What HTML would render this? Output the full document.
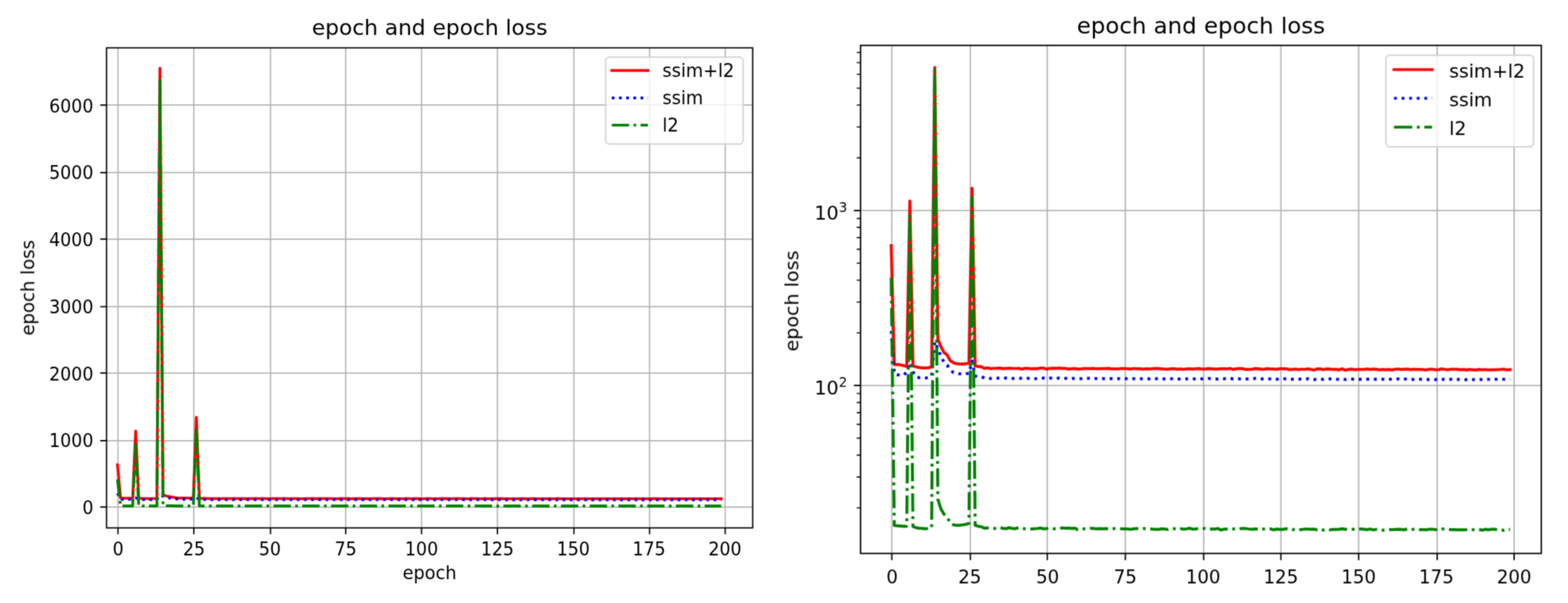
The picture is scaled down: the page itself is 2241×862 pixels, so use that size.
<!DOCTYPE html>
<html lang="en">
<head>
<meta charset="utf-8">
<title>epoch and epoch loss</title>
<style>
html,body{margin:0;padding:0;background:#fff;}
body{width:2241px;height:862px;overflow:hidden;}
svg{display:block;}
</style>
</head>
<body>
<svg width="2241" height="862" viewBox="0 0 2241 862">
<rect width="2241" height="862" fill="#fff"/>
<defs>
<filter id="blura" x="0" y="0" width="1190" height="862" filterUnits="userSpaceOnUse" color-interpolation-filters="sRGB"><feConvolveMatrix order="3" kernelMatrix="0.0400 0.1200 0.0400 0.1200 0.3600 0.1200 0.0400 0.1200 0.0400" divisor="1" edgeMode="duplicate" preserveAlpha="false"/></filter>
<filter id="blurb" x="1100" y="0" width="1141" height="862" filterUnits="userSpaceOnUse" color-interpolation-filters="sRGB"><feConvolveMatrix order="3" kernelMatrix="0.0484 0.1232 0.0484 0.1232 0.3136 0.1232 0.0484 0.1232 0.0484" divisor="1" edgeMode="duplicate" preserveAlpha="false"/></filter>
</defs>
<g font-family="'DejaVu Sans', 'Liberation Sans', sans-serif" fill="#000" filter="url(#blura)">
<clipPath id="ca"><rect x="152.3" y="68.4" width="923.4" height="686.2"/></clipPath>
<path d="M168.6 68.4V754.6M277 68.4V754.6M386.6 68.4V754.6M494.1 68.4V754.6M602.5 68.4V754.6M710.9 68.4V754.6M820.3 68.4V754.6M928.4 68.4V754.6M1036.5 68.4V754.6M152.3 724.8H1075.7M152.3 630.04H1075.7M152.3 533.28H1075.7M152.3 438.42H1075.7M152.3 341.76H1075.7M152.3 246.7H1075.7M152.3 150.24H1075.7" stroke="#b0b0b0" stroke-width="1.76" fill="none"/>
<g clip-path="url(#ca)" fill="none" stroke-width="4.03" stroke-linejoin="round">
<path d="M167.9 664.47L172.24 712.17L176.57 712.15L180.91 712.26L185.24 712.35L189.58 712.51L193.92 616.3L198.25 712.41L202.59 712.56L206.92 712.67L211.26 712.72L215.6 712.73L219.93 712.69L224.27 712.59L228.6 97.57L232.94 707.18L237.28 708.84L241.61 710.02L245.95 710.48L250.28 711.53L254.62 711.88L258.96 712.04L263.29 712.09L267.63 712.08L271.96 712.04L276.3 711.99L280.64 596.48L284.97 712.43L289.31 712.49L293.64 712.54L297.98 712.8L302.32 712.72L306.65 712.85L310.99 712.79L315.32 712.78L319.66 712.75L324 712.86L328.33 712.81L332.67 712.78L337 712.81L341.34 712.82L345.68 712.81L350.01 712.91L354.35 712.8L358.68 712.8L363.02 712.85L367.36 712.84L371.69 712.85L376.03 712.75L380.36 712.76L384.7 712.94L389.04 712.79L393.37 712.77L397.71 712.82L402.04 712.75L406.38 712.81L410.72 712.8L415.05 712.91L419.39 712.85L423.72 712.83L428.06 712.92L432.4 712.89L436.73 712.84L441.07 712.84L445.4 712.82L449.74 712.8L454.08 712.87L458.41 712.85L462.75 712.84L467.08 712.84L471.42 712.8L475.76 712.9L480.09 712.9L484.43 712.88L488.76 712.82L493.1 712.82L497.44 712.85L501.77 712.92L506.11 712.82L510.44 712.87L514.78 712.85L519.12 712.93L523.45 712.86L527.79 712.9L532.12 712.85L536.46 712.8L540.8 712.84L545.13 712.88L549.47 712.92L553.8 712.94L558.14 712.86L562.48 712.85L566.81 712.94L571.15 712.89L575.48 712.96L579.82 712.88L584.16 712.86L588.49 712.91L592.83 712.87L597.16 712.83L601.5 712.91L605.84 712.92L610.17 712.84L614.51 712.86L618.84 712.92L623.18 712.92L627.52 712.87L631.85 712.85L636.19 712.87L640.52 712.81L644.86 712.96L649.2 712.86L653.53 712.82L657.87 712.85L662.2 712.98L666.54 712.96L670.88 712.95L675.21 712.84L679.55 712.85L683.88 712.95L688.22 712.94L692.56 712.84L696.89 712.9L701.23 712.91L705.56 712.94L709.9 712.85L714.24 712.86L718.57 712.85L722.91 713L727.24 712.96L731.58 712.92L735.92 712.99L740.25 712.95L744.59 712.96L748.92 712.87L753.26 712.97L757.6 713.06L761.93 712.88L766.27 712.89L770.6 713.01L774.94 712.89L779.28 712.92L783.61 712.96L787.95 712.94L792.28 713.05L796.62 712.87L800.96 713.09L805.29 712.98L809.63 712.91L813.96 713.01L818.3 712.98L822.64 712.97L826.97 712.97L831.31 712.9L835.64 712.96L839.98 712.91L844.32 712.93L848.65 713.04L852.99 712.96L857.32 713.02L861.66 712.97L866 713.06L870.33 712.94L874.67 712.9L879 712.97L883.34 712.93L887.68 712.93L892.01 713L896.35 712.95L900.68 712.96L905.02 712.96L909.36 713L913.69 713.04L918.03 712.94L922.36 712.95L926.7 713.01L931.04 713L935.37 712.88L939.71 712.96L944.04 713.03L948.38 712.93L952.72 712.95L957.05 712.94L961.39 713.02L965.72 712.97L970.06 713.05L974.4 712.97L978.73 713.04L983.07 713.05L987.4 712.96L991.74 713.01L996.08 713L1000.41 713.04L1004.75 713.01L1009.08 713.02L1013.42 712.99L1017.76 712.98L1022.09 712.93L1026.43 713.04L1030.76 713.01" stroke="#f00" stroke-linecap="square"/>
<path d="M167.9 705.17L172.24 713.6L176.57 713.76L180.91 713.85L185.24 713.83L189.58 713.36L193.92 711.87L198.25 713.31L202.59 714.03L206.92 714.19L211.26 714.22L215.6 714.22L219.93 714.19L224.27 713.93L228.6 707.75L232.94 709.24L237.28 710.72L241.61 711.82L245.95 712.26L250.28 713.06L254.62 713.43L258.96 713.6L263.29 713.63L267.63 713.63L271.96 713.6L276.3 713.57L280.64 711.59L284.97 713.96L289.31 714L293.64 714.04L297.98 714.25L302.32 714.19L306.65 714.3L310.99 714.25L315.32 714.27L319.66 714.23L324 714.27L328.33 714.23L332.67 714.27L337 714.29L341.34 714.27L345.68 714.25L350.01 714.29L354.35 714.3L358.68 714.28L363.02 714.28L367.36 714.29L371.69 714.34L376.03 714.26L380.36 714.24L384.7 714.34L389.04 714.25L393.37 714.23L397.71 714.28L402.04 714.23L406.38 714.29L410.72 714.27L415.05 714.33L419.39 714.29L423.72 714.29L428.06 714.32L432.4 714.32L436.73 714.29L441.07 714.28L445.4 714.24L449.74 714.31L454.08 714.3L458.41 714.29L462.75 714.31L467.08 714.33L471.42 714.3L475.76 714.33L480.09 714.36L484.43 714.32L488.76 714.34L493.1 714.29L497.44 714.33L501.77 714.33L506.11 714.32L510.44 714.34L514.78 714.33L519.12 714.35L523.45 714.32L527.79 714.35L532.12 714.3L536.46 714.34L540.8 714.33L545.13 714.36L549.47 714.35L553.8 714.34L558.14 714.34L562.48 714.29L566.81 714.34L571.15 714.37L575.48 714.36L579.82 714.34L584.16 714.36L588.49 714.35L592.83 714.34L597.16 714.32L601.5 714.35L605.84 714.36L610.17 714.29L614.51 714.32L618.84 714.36L623.18 714.37L627.52 714.3L631.85 714.34L636.19 714.34L640.52 714.27L644.86 714.37L649.2 714.36L653.53 714.34L657.87 714.34L662.2 714.36L666.54 714.38L670.88 714.37L675.21 714.29L679.55 714.33L683.88 714.36L688.22 714.35L692.56 714.34L696.89 714.35L701.23 714.34L705.56 714.39L709.9 714.35L714.24 714.31L718.57 714.37L722.91 714.41L727.24 714.41L731.58 714.41L735.92 714.41L740.25 714.34L744.59 714.38L748.92 714.33L753.26 714.41L757.6 714.45L761.93 714.38L766.27 714.38L770.6 714.42L774.94 714.36L779.28 714.36L783.61 714.33L787.95 714.4L792.28 714.42L796.62 714.37L800.96 714.44L805.29 714.38L809.63 714.38L813.96 714.39L818.3 714.43L822.64 714.4L826.97 714.4L831.31 714.38L835.64 714.41L839.98 714.36L844.32 714.41L848.65 714.44L852.99 714.4L857.32 714.44L861.66 714.39L866 714.41L870.33 714.42L874.67 714.35L879 714.44L883.34 714.37L887.68 714.39L892.01 714.43L896.35 714.43L900.68 714.39L905.02 714.4L909.36 714.38L913.69 714.42L918.03 714.44L922.36 714.43L926.7 714.45L931.04 714.41L935.37 714.39L939.71 714.43L944.04 714.46L948.38 714.41L952.72 714.42L957.05 714.42L961.39 714.44L965.72 714.47L970.06 714.45L974.4 714.45L978.73 714.45L983.07 714.45L987.4 714.42L991.74 714.44L996.08 714.46L1000.41 714.41L1004.75 714.41L1009.08 714.43L1013.42 714.38L1017.76 714.4L1022.09 714.41L1026.43 714.46L1030.76 714.43" stroke="#00f" stroke-dasharray="3.88 6.39"/>
<path d="M167.9 685.25L172.24 723.28L176.57 723.29L180.91 723.29L185.24 723.3L189.58 723.3L193.92 635.26L198.25 723.3L202.59 723.33L206.92 723.33L211.26 723.34L215.6 723.34L219.93 723.34L224.27 723.33L228.6 114.62L232.94 722.65L237.28 722.91L241.61 723.04L245.95 723.1L250.28 723.24L254.62 723.27L258.96 723.28L263.29 723.28L267.63 723.27L271.96 723.26L276.3 723.24L280.64 611.04L284.97 723.28L289.31 723.3L293.64 723.31L297.98 723.33L302.32 723.33L306.65 723.33L310.99 723.34L315.32 723.34L319.66 723.32L324 723.34L328.33 723.34L332.67 723.33L337 723.34L341.34 723.34L345.68 723.32L350.01 723.34L354.35 723.34L358.68 723.35L363.02 723.35L367.36 723.34L371.69 723.34L376.03 723.33L380.36 723.35L384.7 723.34L389.04 723.33L393.37 723.34L397.71 723.35L402.04 723.35L406.38 723.33L410.72 723.34L415.05 723.33L419.39 723.34L423.72 723.33L428.06 723.36L432.4 723.35L436.73 723.35L441.07 723.35L445.4 723.34L449.74 723.34L454.08 723.35L458.41 723.34L462.75 723.35L467.08 723.34L471.42 723.35L475.76 723.34L480.09 723.34L484.43 723.34L488.76 723.35L493.1 723.35L497.44 723.35L501.77 723.36L506.11 723.34L510.44 723.34L514.78 723.34L519.12 723.34L523.45 723.35L527.79 723.35L532.12 723.35L536.46 723.36L540.8 723.36L545.13 723.35L549.47 723.35L553.8 723.36L558.14 723.34L562.48 723.34L566.81 723.36L571.15 723.35L575.48 723.35L579.82 723.35L584.16 723.34L588.49 723.35L592.83 723.35L597.16 723.34L601.5 723.35L605.84 723.34L610.17 723.35L614.51 723.35L618.84 723.35L623.18 723.34L627.52 723.37L631.85 723.35L636.19 723.35L640.52 723.35L644.86 723.35L649.2 723.34L653.53 723.34L657.87 723.34L662.2 723.34L666.54 723.35L670.88 723.36L675.21 723.35L679.55 723.35L683.88 723.34L688.22 723.35L692.56 723.36L696.89 723.35L701.23 723.37L705.56 723.35L709.9 723.36L714.24 723.36L718.57 723.35L722.91 723.36L727.24 723.37L731.58 723.34L735.92 723.36L740.25 723.36L744.59 723.35L748.92 723.35L753.26 723.36L757.6 723.35L761.93 723.37L766.27 723.35L770.6 723.37L774.94 723.36L779.28 723.37L783.61 723.36L787.95 723.36L792.28 723.36L796.62 723.35L800.96 723.35L805.29 723.36L809.63 723.36L813.96 723.36L818.3 723.36L822.64 723.35L826.97 723.36L831.31 723.36L835.64 723.35L839.98 723.37L844.32 723.36L848.65 723.37L852.99 723.37L857.32 723.37L861.66 723.36L866 723.36L870.33 723.36L874.67 723.35L879 723.36L883.34 723.37L887.68 723.35L892.01 723.36L896.35 723.35L900.68 723.35L905.02 723.36L909.36 723.36L913.69 723.37L918.03 723.35L922.36 723.35L926.7 723.36L931.04 723.37L935.37 723.35L939.71 723.35L944.04 723.36L948.38 723.36L952.72 723.36L957.05 723.36L961.39 723.37L965.72 723.37L970.06 723.36L974.4 723.35L978.73 723.36L983.07 723.37L987.4 723.36L991.74 723.37L996.08 723.36L1000.41 723.37L1004.75 723.35L1009.08 723.36L1013.42 723.37L1017.76 723.36L1022.09 723.38L1026.43 723.36L1030.76 723.36" stroke="#008000" stroke-dasharray="24.8 6.2 3.88 6.2"/>
</g>
<path d="M168.6 754.6v9.04M277 754.6v9.04M386.6 754.6v9.04M494.1 754.6v9.04M602.5 754.6v9.04M710.9 754.6v9.04M820.3 754.6v9.04M928.4 754.6v9.04M1036.5 754.6v9.04M152.3 724.8h-9.04M152.3 630.04h-9.04M152.3 533.28h-9.04M152.3 438.42h-9.04M152.3 341.76h-9.04M152.3 246.7h-9.04M152.3 150.24h-9.04" stroke="#000" stroke-width="1.86" fill="none"/>
<rect x="152.3" y="68.4" width="923.4" height="686.2" fill="none" stroke="#000" stroke-width="1.86"/>
<text x="168.9" y="793.8" font-size="25.83" text-anchor="middle" textLength="15.78" lengthAdjust="spacingAndGlyphs">0</text>
<text x="277.3" y="793.8" font-size="25.83" text-anchor="middle" textLength="31.56" lengthAdjust="spacingAndGlyphs">25</text>
<text x="385.7" y="793.8" font-size="25.83" text-anchor="middle" textLength="31.56" lengthAdjust="spacingAndGlyphs">50</text>
<text x="494.1" y="793.8" font-size="25.83" text-anchor="middle" textLength="31.56" lengthAdjust="spacingAndGlyphs">75</text>
<text x="602.5" y="793.8" font-size="25.83" text-anchor="middle" textLength="47.34" lengthAdjust="spacingAndGlyphs">100</text>
<text x="710.9" y="793.8" font-size="25.83" text-anchor="middle" textLength="47.34" lengthAdjust="spacingAndGlyphs">125</text>
<text x="819.3" y="793.8" font-size="25.83" text-anchor="middle" textLength="47.34" lengthAdjust="spacingAndGlyphs">150</text>
<text x="927.7" y="793.8" font-size="25.83" text-anchor="middle" textLength="47.34" lengthAdjust="spacingAndGlyphs">175</text>
<text x="1036.1" y="793.8" font-size="25.83" text-anchor="middle" textLength="47.34" lengthAdjust="spacingAndGlyphs">200</text>
<text x="133.42" y="735.2" font-size="25.83" text-anchor="end" textLength="15.78" lengthAdjust="spacingAndGlyphs">0</text>
<text x="133.42" y="639.44" font-size="25.83" text-anchor="end" textLength="63.11" lengthAdjust="spacingAndGlyphs">1000</text>
<text x="133.42" y="543.68" font-size="25.83" text-anchor="end" textLength="63.11" lengthAdjust="spacingAndGlyphs">2000</text>
<text x="133.42" y="447.92" font-size="25.83" text-anchor="end" textLength="63.11" lengthAdjust="spacingAndGlyphs">3000</text>
<text x="133.42" y="352.16" font-size="25.83" text-anchor="end" textLength="63.11" lengthAdjust="spacingAndGlyphs">4000</text>
<text x="133.42" y="256.4" font-size="25.83" text-anchor="end" textLength="63.11" lengthAdjust="spacingAndGlyphs">5000</text>
<text x="133.42" y="160.64" font-size="25.83" text-anchor="end" textLength="63.11" lengthAdjust="spacingAndGlyphs">6000</text>
<text x="614" y="50.1" font-size="31" text-anchor="middle">epoch and epoch loss</text>
<text x="614" y="828" font-size="25.83" text-anchor="middle" textLength="76.94" lengthAdjust="spacingAndGlyphs">epoch</text>
<text transform="translate(49 411.5) rotate(-90)" font-size="25.83" text-anchor="middle">epoch loss</text>
<rect x="865.6" y="81.7" width="196.4" height="124.1" rx="5.17" fill="#fff" fill-opacity="0.8" stroke="#ccc" stroke-opacity="0.8" stroke-width="2.2"/>
<path d="M874.4 100.7H926.07" stroke="#f00" stroke-width="3.88" fill="none" stroke-linecap="square"/>
<text x="946.73" y="109.5" font-size="25.83" textLength="102.64" lengthAdjust="spacingAndGlyphs">ssim+l2</text>
<path d="M874.4 140H926.07" stroke="#00f" stroke-width="3.88" fill="none" stroke-dasharray="3.88 6.39"/>
<text x="946.73" y="148.8" font-size="25.83" textLength="58.19" lengthAdjust="spacingAndGlyphs">ssim</text>
<path d="M874.4 178.9H926.07" stroke="#008000" stroke-width="3.88" fill="none" stroke-dasharray="24.8 6.2 3.88 6.2"/>
<text x="946.73" y="187.7" font-size="25.83" textLength="23.19" lengthAdjust="spacingAndGlyphs">l2</text>
</g>
<g font-family="'DejaVu Sans', 'Liberation Sans', sans-serif" fill="#000" filter="url(#blurb)">
<clipPath id="cb"><rect x="1229.9" y="64.9" width="972.9" height="726.3"/></clipPath>
<path d="M1274.6 64.9V791.2M1386.83 64.9V791.2M1496.75 64.9V791.2M1608.38 64.9V791.2M1720.3 64.9V791.2M1830.62 64.9V791.2M1941.75 64.9V791.2M2054.07 64.9V791.2M2164 64.9V791.2M1229.9 551.1H2202.8M1229.9 300.9H2202.8" stroke="#b0b0b0" stroke-width="1.85" fill="none"/>
<g clip-path="url(#cb)" fill="none" stroke-width="4.25" stroke-linejoin="round">
<path d="M1273.7 351.1L1278.14 521.01L1282.59 520.85L1287.04 521.76L1291.48 522.59L1295.92 524.02L1300.37 287.33L1304.82 523.09L1309.26 524.45L1313.71 525.39L1318.15 525.9L1322.6 525.99L1327.04 525.56L1331.49 524.7L1335.93 96.68L1340.38 484.84L1344.82 495.57L1349.27 503.97L1353.71 507.4L1358.15 515.63L1362.6 518.57L1367.05 519.95L1371.49 520.36L1375.94 520.28L1380.38 519.87L1384.83 519.46L1389.27 269.1L1393.72 523.26L1398.16 523.77L1402.61 524.28L1407.05 526.59L1411.5 525.83L1415.94 527L1420.38 526.5L1424.83 526.39L1429.28 526.13L1433.72 527.12L1438.16 526.7L1442.61 526.44L1447.06 526.7L1451.5 526.75L1455.94 526.68L1460.39 527.59L1464.84 526.62L1469.28 526.61L1473.73 527.08L1478.17 526.91L1482.62 527.02L1487.06 526.12L1491.51 526.19L1495.95 527.89L1500.39 526.51L1504.84 526.35L1509.29 526.72L1513.73 526.13L1518.17 526.65L1522.62 526.59L1527.07 527.59L1531.51 527.07L1535.96 526.82L1540.4 527.65L1544.85 527.43L1549.29 526.94L1553.74 526.95L1558.18 526.78L1562.62 526.62L1567.07 527.24L1571.52 527.01L1575.96 526.91L1580.4 526.96L1584.85 526.6L1589.3 527.48L1593.74 527.46L1598.19 527.32L1602.63 526.76L1607.08 526.8L1611.52 527.05L1615.97 527.69L1620.41 526.78L1624.86 527.21L1629.3 527.05L1633.75 527.76L1638.19 527.09L1642.63 527.49L1647.08 527.03L1651.53 526.61L1655.97 526.97L1660.42 527.29L1664.86 527.67L1669.31 527.84L1673.75 527.12L1678.19 527.01L1682.64 527.81L1687.09 527.43L1691.53 528.04L1695.98 527.28L1700.42 527.13L1704.87 527.58L1709.31 527.24L1713.76 526.81L1718.2 527.58L1722.65 527.64L1727.09 526.9L1731.54 527.08L1735.98 527.64L1740.42 527.63L1744.87 527.23L1749.32 527.07L1753.76 527.26L1758.21 526.71L1762.65 528.07L1767.1 527.15L1771.54 526.78L1775.99 526.99L1780.43 528.19L1784.88 528.03L1789.32 527.91L1793.77 526.91L1798.21 527.05L1802.65 527.91L1807.1 527.82L1811.55 526.96L1815.99 527.49L1820.44 527.56L1824.88 527.88L1829.33 527.05L1833.77 527.15L1838.21 527.01L1842.66 528.44L1847.11 528.05L1851.55 527.71L1856 528.31L1860.44 527.94L1864.88 528L1869.33 527.24L1873.78 528.11L1878.22 528.98L1882.67 527.33L1887.11 527.44L1891.56 528.46L1896 527.4L1900.44 527.65L1904.89 528.04L1909.34 527.87L1913.78 528.83L1918.23 527.21L1922.67 529.24L1927.12 528.18L1931.56 527.57L1936.01 528.52L1940.45 528.22L1944.9 528.16L1949.34 528.12L1953.79 527.48L1958.23 528.04L1962.67 527.56L1967.12 527.77L1971.57 528.74L1976.01 528.07L1980.46 528.59L1984.9 528.16L1989.35 528.94L1993.79 527.86L1998.24 527.5L2002.68 528.12L2007.13 527.77L2011.57 527.72L2016.02 528.44L2020.46 527.94L2024.9 528.03L2029.35 528.08L2033.8 528.43L2038.24 528.76L2042.69 527.83L2047.13 527.91L2051.57 528.54L2056.02 528.38L2060.47 527.31L2064.91 528.01L2069.36 528.67L2073.8 527.76L2078.24 527.92L2082.69 527.84L2087.13 528.6L2091.58 528.14L2096.02 528.89L2100.47 528.11L2104.91 528.74L2109.36 528.87L2113.8 528.07L2118.25 528.5L2122.69 528.38L2127.14 528.75L2131.59 528.51L2136.03 528.61L2140.47 528.28L2144.92 528.22L2149.36 527.74L2153.81 528.74L2158.26 528.51" stroke="#f00" stroke-linecap="square"/>
<path d="M1273.7 473.1L1278.14 534.04L1282.59 535.63L1287.04 536.48L1291.48 536.29L1295.92 531.74L1300.37 518.49L1304.82 531.29L1309.26 538.3L1313.71 539.96L1318.15 540.25L1322.6 540.25L1327.04 539.96L1331.49 537.34L1335.93 488.44L1340.38 498.34L1344.82 509.24L1349.27 518.09L1353.71 521.76L1358.15 528.96L1362.6 532.47L1367.05 534.04L1371.49 534.41L1375.94 534.41L1380.38 534.04L1384.83 533.76L1389.27 516.1L1393.72 537.63L1398.16 538.01L1402.61 538.4L1407.05 540.55L1411.5 539.98L1415.94 541.09L1420.38 540.6L1424.83 540.74L1429.28 540.36L1433.72 540.77L1438.16 540.38L1442.61 540.75L1447.06 541.02L1451.5 540.78L1455.94 540.53L1460.39 540.96L1464.84 541.07L1469.28 540.85L1473.73 540.93L1478.17 541.02L1482.62 541.53L1487.06 540.63L1491.51 540.46L1495.95 541.47L1500.39 540.62L1504.84 540.42L1509.29 540.92L1513.73 540.4L1518.17 541.04L1522.62 540.81L1527.07 541.44L1531.51 540.97L1535.96 541.01L1540.4 541.33L1544.85 541.26L1549.29 540.98L1553.74 540.91L1558.18 540.48L1562.62 541.16L1567.07 541.11L1571.52 540.97L1575.96 541.23L1580.4 541.4L1584.85 541.06L1589.3 541.42L1593.74 541.75L1598.19 541.27L1602.63 541.48L1607.08 541.03L1611.52 541.43L1615.97 541.45L1620.41 541.28L1624.86 541.53L1629.3 541.38L1633.75 541.6L1638.19 541.34L1642.63 541.59L1647.08 541.09L1651.53 541.47L1655.97 541.43L1660.42 541.74L1664.86 541.62L1669.31 541.48L1673.75 541.5L1678.19 540.95L1682.64 541.51L1687.09 541.79L1691.53 541.67L1695.98 541.55L1700.42 541.76L1704.87 541.56L1709.31 541.5L1713.76 541.33L1718.2 541.6L1722.65 541.76L1727.09 541L1731.54 541.28L1735.98 541.69L1740.42 541.82L1744.87 541.12L1749.32 541.48L1753.76 541.47L1758.21 540.83L1762.65 541.81L1767.1 541.75L1771.54 541.51L1775.99 541.54L1780.43 541.67L1784.88 541.9L1789.32 541.79L1793.77 540.95L1798.21 541.37L1802.65 541.67L1807.1 541.56L1811.55 541.48L1815.99 541.65L1820.44 541.55L1824.88 542.02L1829.33 541.65L1833.77 541.16L1838.21 541.77L1842.66 542.23L1847.11 542.21L1851.55 542.24L1856 542.21L1860.44 541.49L1864.88 541.94L1869.33 541.45L1873.78 542.2L1878.22 542.63L1882.67 541.97L1887.11 541.87L1891.56 542.38L1896 541.72L1900.44 541.72L1904.89 541.42L1909.34 542.09L1913.78 542.3L1918.23 541.78L1922.67 542.5L1927.12 541.97L1931.56 541.97L1936.01 542.04L1940.45 542.44L1944.9 542.1L1949.34 542.18L1953.79 541.97L1958.23 542.22L1962.67 541.69L1967.12 542.28L1971.57 542.5L1976.01 542.09L1980.46 542.56L1984.9 542.07L1989.35 542.21L1993.79 542.33L1998.24 541.6L2002.68 542.51L2007.13 541.85L2011.57 541.99L2016.02 542.41L2020.46 542.45L2024.9 542.05L2029.35 542.16L2033.8 541.92L2038.24 542.37L2042.69 542.54L2047.13 542.46L2051.57 542.67L2056.02 542.28L2060.47 542.02L2064.91 542.45L2069.36 542.77L2073.8 542.21L2078.24 542.3L2082.69 542.31L2087.13 542.52L2091.58 542.85L2096.02 542.69L2100.47 542.61L2104.91 542.61L2109.36 542.68L2113.8 542.35L2118.25 542.51L2122.69 542.74L2127.14 542.25L2131.59 542.2L2136.03 542.45L2140.47 541.97L2144.92 542.1L2149.36 542.25L2153.81 542.77L2158.26 542.4" stroke="#00f" stroke-dasharray="4.09 6.74"/>
<path d="M1273.7 396.99L1278.14 751.25L1282.59 751.6L1287.04 751.94L1291.48 752.29L1295.92 752.29L1300.37 308.2L1304.82 752.63L1309.26 754.38L1313.71 755.09L1318.15 755.45L1322.6 755.8L1327.04 755.45L1331.49 755.09L1335.93 99.67L1340.38 713.67L1344.82 727.62L1349.27 735.04L1353.71 738.64L1358.15 748.21L1362.6 750.23L1367.05 750.91L1371.49 750.91L1375.94 750.23L1380.38 749.55L1384.83 748.21L1389.27 282.18L1393.72 750.91L1398.16 752.29L1402.61 752.98L1407.05 755.09L1411.5 754.63L1415.94 755.05L1420.38 755.27L1424.83 755.65L1429.28 754.19L1433.72 755.34L1438.16 755.65L1442.61 754.4L1447.06 755.52L1451.5 755.57L1455.94 754.24L1460.39 755.64L1464.84 755.78L1469.28 756.1L1473.73 756.19L1478.17 755.78L1482.62 755.5L1487.06 754.83L1491.51 755.96L1495.95 755.73L1500.39 754.78L1504.84 755.8L1509.29 756.02L1513.73 756.02L1518.17 754.65L1522.62 755.22L1527.07 754.87L1531.51 755.28L1535.96 755.02L1540.4 757.08L1544.85 755.89L1549.29 755.94L1553.74 756.1L1558.18 755.25L1562.62 755.42L1567.07 755.99L1571.52 755.58L1575.96 755.96L1580.4 755.53L1584.85 756.2L1589.3 755.59L1593.74 755.7L1598.19 755.69L1602.63 755.93L1607.08 756.12L1611.52 756.11L1615.97 756.73L1620.41 755.84L1624.86 755.56L1629.3 755.52L1633.75 755.41L1638.19 755.96L1642.63 756L1647.08 756.39L1651.53 756.66L1655.97 756.77L1660.42 755.85L1664.86 756.26L1669.31 756.88L1673.75 755.55L1678.19 755.74L1682.64 757.13L1687.09 755.98L1691.53 756.42L1695.98 756.02L1700.42 755.16L1704.87 756.43L1709.31 756.19L1713.76 755.51L1718.2 756.01L1722.65 755.26L1727.09 756.41L1731.54 756.23L1735.98 756.49L1740.42 755.45L1744.87 757.64L1749.32 756.44L1753.76 756.44L1758.21 756.19L1762.65 756.26L1767.1 755.11L1771.54 755.8L1775.99 755.33L1780.43 755.52L1784.88 756.25L1789.32 756.72L1793.77 756.1L1798.21 756.54L1802.65 755.62L1807.1 756.39L1811.55 756.9L1815.99 756.12L1820.44 757.42L1824.88 756.35L1829.33 756.93L1833.77 756.62L1838.21 755.89L1842.66 756.85L1847.11 757.38L1851.55 755.8L1856 757.09L1860.44 757.01L1864.88 756.4L1869.33 756.48L1873.78 756.63L1878.22 756.48L1882.67 757.38L1887.11 756.21L1891.56 757.81L1896 756.62L1900.44 757.43L1904.89 756.98L1909.34 756.93L1913.78 756.66L1918.23 755.92L1922.67 756.57L1927.12 756.77L1931.56 756.68L1936.01 756.64L1940.45 757.01L1944.9 756.03L1949.34 756.66L1953.79 757.09L1958.23 756.25L1962.67 757.53L1967.12 756.72L1971.57 757.51L1976.01 757.81L1980.46 757.44L1984.9 757.19L1989.35 757.02L1993.79 756.85L1998.24 756.57L2002.68 756.87L2007.13 757.37L2011.57 756L2016.02 757.29L2020.46 756.53L2024.9 756.36L2029.35 757.17L2033.8 757L2038.24 757.35L2042.69 756.52L2047.13 756.5L2051.57 757.04L2056.02 757.84L2060.47 756.4L2064.91 756.11L2069.36 756.67L2073.8 757.12L2078.24 757.22L2082.69 757.3L2087.13 757.42L2091.58 757.39L2096.02 757.11L2100.47 756.36L2104.91 757.13L2109.36 757.61L2113.8 756.85L2118.25 757.85L2122.69 756.72L2127.14 757.36L2131.59 756.57L2136.03 756.59L2140.47 757.38L2144.92 757.07L2149.36 758.22L2153.81 757.09L2158.26 756.79" stroke="#008000" stroke-dasharray="26.16 6.54 4.09 6.54"/>
</g>
<path d="M1274.6 791.2v9.54M1386.83 791.2v9.54M1496.75 791.2v9.54M1608.38 791.2v9.54M1720.3 791.2v9.54M1830.62 791.2v9.54M1941.75 791.2v9.54M2054.07 791.2v9.54M2164 791.2v9.54M1229.9 551.1h-9.54M1229.9 300.9h-9.54" stroke="#000" stroke-width="1.96" fill="none"/>
<path d="M1229.9 725.98h-5.45M1229.9 681.92h-5.45M1229.9 650.66h-5.45M1229.9 626.42h-5.45M1229.9 606.61h-5.45M1229.9 589.86h-5.45M1229.9 575.35h-5.45M1229.9 562.55h-5.45M1229.9 475.78h-5.45M1229.9 431.72h-5.45M1229.9 400.46h-5.45M1229.9 376.22h-5.45M1229.9 356.41h-5.45M1229.9 339.66h-5.45M1229.9 325.15h-5.45M1229.9 312.35h-5.45M1229.9 225.58h-5.45M1229.9 181.52h-5.45M1229.9 150.26h-5.45M1229.9 126.02h-5.45M1229.9 106.21h-5.45M1229.9 89.46h-5.45M1229.9 74.95h-5.45" stroke="#000" stroke-width="1.63" fill="none"/>
<rect x="1229.9" y="64.9" width="972.9" height="726.3" fill="none" stroke="#000" stroke-width="1.96"/>
<text x="1275" y="833.5" font-size="27.25" text-anchor="middle" textLength="16.56" lengthAdjust="spacingAndGlyphs">0</text>
<text x="1386.12" y="833.5" font-size="27.25" text-anchor="middle" textLength="33.11" lengthAdjust="spacingAndGlyphs">25</text>
<text x="1497.25" y="833.5" font-size="27.25" text-anchor="middle" textLength="33.11" lengthAdjust="spacingAndGlyphs">50</text>
<text x="1608.38" y="833.5" font-size="27.25" text-anchor="middle" textLength="33.11" lengthAdjust="spacingAndGlyphs">75</text>
<text x="1719.5" y="833.5" font-size="27.25" text-anchor="middle" textLength="49.67" lengthAdjust="spacingAndGlyphs">100</text>
<text x="1830.62" y="833.5" font-size="27.25" text-anchor="middle" textLength="49.67" lengthAdjust="spacingAndGlyphs">125</text>
<text x="1941.75" y="833.5" font-size="27.25" text-anchor="middle" textLength="49.67" lengthAdjust="spacingAndGlyphs">150</text>
<text x="2052.88" y="833.5" font-size="27.25" text-anchor="middle" textLength="49.67" lengthAdjust="spacingAndGlyphs">175</text>
<text x="2164" y="833.5" font-size="27.25" text-anchor="middle" textLength="49.67" lengthAdjust="spacingAndGlyphs">200</text>
<text x="1210.83" y="564.1" font-size="27.25" text-anchor="end">10<tspan font-size="19.07" dy="-10.63">2</tspan></text>
<text x="1210.83" y="313.9" font-size="27.25" text-anchor="end">10<tspan font-size="19.07" dy="-10.63">3</tspan></text>
<text x="1716.35" y="47.6" font-size="32.7" text-anchor="middle">epoch and epoch loss</text>
<text transform="translate(1141 430.25) rotate(-90)" font-size="27.25" text-anchor="middle">epoch loss</text>
<rect x="1980.8" y="78.9" width="211" height="130.9" rx="5.45" fill="#fff" fill-opacity="0.8" stroke="#ccc" stroke-opacity="0.8" stroke-width="2.32"/>
<path d="M1992.3 99.5H2046.8" stroke="#f00" stroke-width="4.09" fill="none" stroke-linecap="square"/>
<text x="2071.3" y="111.2" font-size="27.25" textLength="108.27" lengthAdjust="spacingAndGlyphs">ssim+l2</text>
<path d="M1992.3 140.5H2046.8" stroke="#00f" stroke-width="4.09" fill="none" stroke-dasharray="4.09 6.74"/>
<text x="2071.3" y="152.2" font-size="27.25" textLength="61.38" lengthAdjust="spacingAndGlyphs">ssim</text>
<path d="M1992.3 181.7H2046.8" stroke="#008000" stroke-width="4.09" fill="none" stroke-dasharray="26.16 6.54 4.09 6.54"/>
<text x="2071.3" y="193.4" font-size="27.25" textLength="24.46" lengthAdjust="spacingAndGlyphs">l2</text>
</g>
</svg>
</body>
</html>
